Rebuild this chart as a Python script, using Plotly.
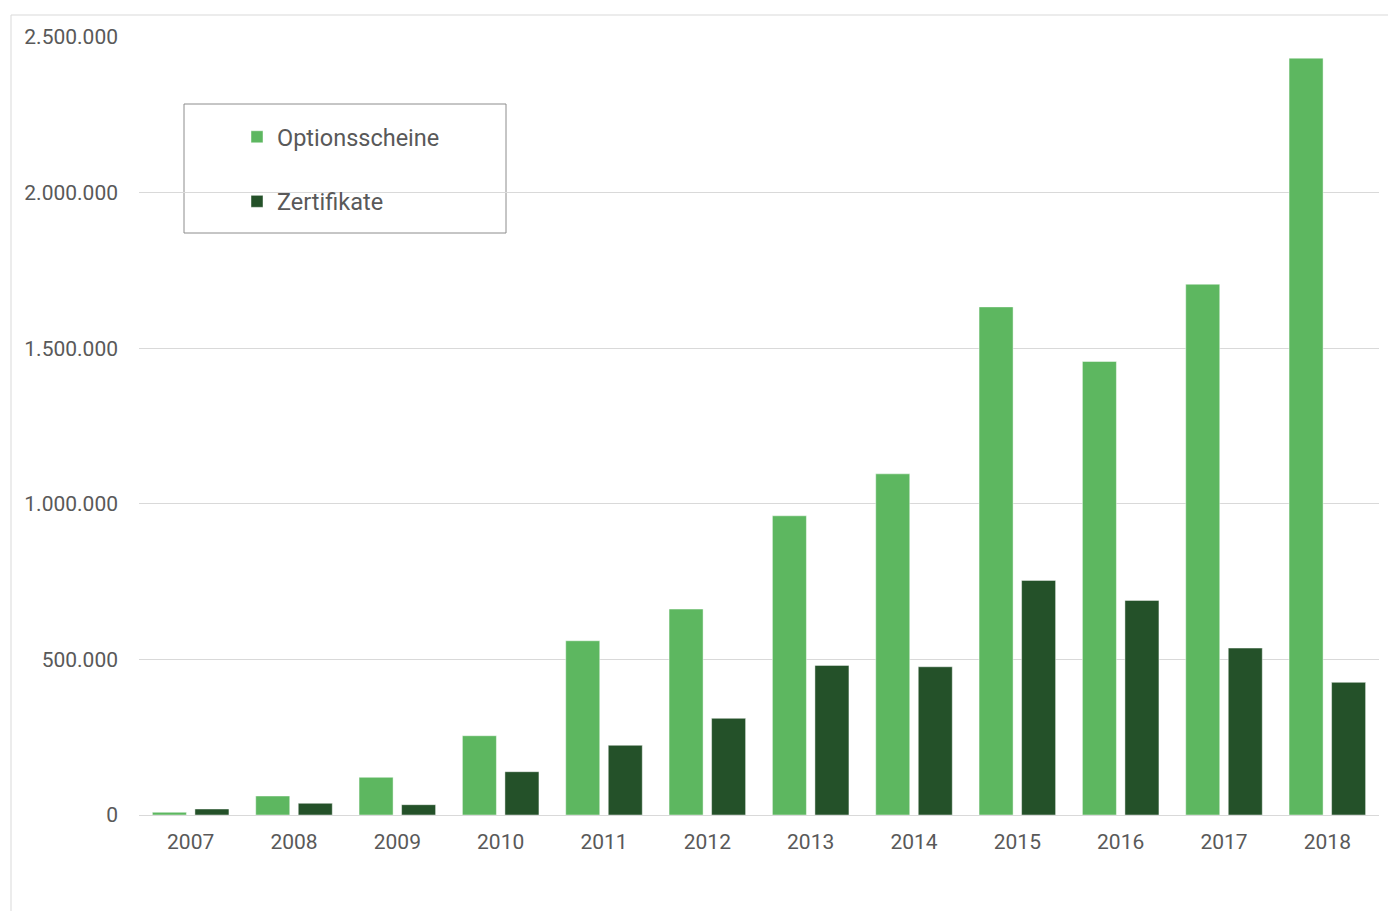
import plotly.graph_objects as go

# Jahresvolumen nach Produktgruppe
jahre = ["2007", "2008", "2009", "2010", "2011", "2012",
         "2013", "2014", "2015", "2016", "2017", "2018"]
optionsscheine = [8700, 61000, 121000, 254700, 559900, 661700,
                  961400, 1096300, 1632700, 1457300, 1705600, 2432000]
zertifikate = [19300, 37600, 33100, 139100, 223900, 310600,
               480800, 476300, 753900, 689600, 536400, 426200]

y_ticks = [0, 500000, 1000000, 1500000, 2000000, 2500000]

HELL = "#5db760"
DUNKEL = "#245129"
TEXT = "#595959"
GRID = "#d9d9d9"
FONT = "Roboto, Arial, sans-serif"

fig = go.Figure()
fig.add_trace(go.Bar(
    x=jahre, y=optionsscheine, name="Optionsscheine",
    marker=dict(color=HELL, line=dict(color="rgba(255,255,255,0.45)", width=1)),
    legendgroup="a",
))
fig.add_trace(go.Bar(
    x=jahre, y=zertifikate, name="Zertifikate",
    marker=dict(color=DUNKEL, line=dict(color="rgba(255,255,255,0.45)", width=1)),
    legendgroup="b",
))

W, H = 1388, 911
L, R, T, B = 139, 9, 37, 96
pw, ph = W - L - R, H - T - B


def px_x(p):
    return (p - L) / pw


def px_y(p):
    return (H - B - p) / ph


# Rahmen um den Diagrammbereich
fig.add_shape(type="rect", xref="paper", yref="paper",
              x0=px_x(11), x1=px_x(W + 20), y0=px_y(H + 20), y1=px_y(15),
              line=dict(color=GRID, width=1), fillcolor="rgba(0,0,0,0)", layer="below")
# Legendenrahmen
fig.add_shape(type="rect", xref="paper", yref="paper",
              x0=px_x(184), x1=px_x(506), y0=px_y(233), y1=px_y(104),
              line=dict(color="#8c8c8c", width=1), fillcolor="white", layer="below")

fig.update_layout(
    width=W, height=H,
    margin=dict(l=L, r=R, t=T, b=B, pad=0),
    paper_bgcolor="white", plot_bgcolor="white",
    separators=",.",
    barmode="group", bargap=0.177, bargroupgap=0.2,
    font=dict(family=FONT, color=TEXT, size=21),
    showlegend=True,
    legend=dict(
        x=px_x(237), y=px_y(115), xanchor="left", yanchor="top",
        bgcolor="rgba(0,0,0,0)", borderwidth=0,
        font=dict(family=FONT, size=23.5, color=TEXT),
        traceorder="grouped", tracegroupgap=31,
    ),
    xaxis=dict(
        showgrid=False, showline=False, zeroline=False,
        tickfont=dict(family=FONT, size=21, color=TEXT),
        ticks="", ticklabelstandoff=12,
    ),
    yaxis=dict(
        range=[0, 2500000], tickvals=y_ticks, tickformat=",d",
        showgrid=True, gridcolor=GRID, gridwidth=1,
        zeroline=True, zerolinecolor=GRID, zerolinewidth=1,
        showline=False, ticks="",
        tickfont=dict(family=FONT, size=21, color=TEXT),
        ticklabelstandoff=20,
    ),
)

fig.write_html("out.html")
